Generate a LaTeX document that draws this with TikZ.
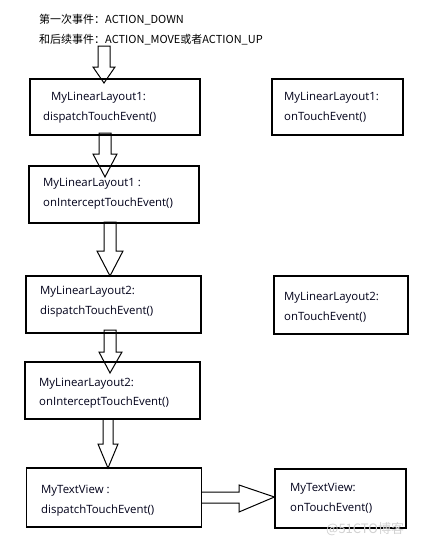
\documentclass[tikz,border=0pt]{standalone}
\usepackage{fontspec}
\setmainfont{Open Sans}
\newfontfamily\cjk{Noto Sans CJK SC}
\begin{document}
\begin{tikzpicture}[x=1pt,y=-1pt,
  box/.style={draw=black,line width=1.2pt,rectangle,inner sep=0pt},
  lbl/.style={anchor=base west,inner sep=0pt,font=\fontsize{11.4pt}{13pt}\selectfont,text=black!90!blue},
  hdr/.style={anchor=base west,inner sep=0pt,font=\fontsize{11pt}{13pt}\selectfont\cjk,text=black},
  blk/.style={draw=black,line width=1pt,line join=miter,fill=none}]
\useasboundingbox (0,0) rectangle (434,546);
% boxes
\node[box,minimum width=170pt,minimum height=56pt] (A) at (115,107) {};
\node[box,minimum width=131pt,minimum height=56pt] (B) at (337.5,107) {};
\node[box,minimum width=170pt,minimum height=57pt] (C) at (114,194.5) {};
\node[box,minimum width=175pt,minimum height=57pt] (D) at (113.5,304.5) {};
\node[box,minimum width=134pt,minimum height=58pt] (E) at (341,305) {};
\node[box,minimum width=175pt,minimum height=57pt] (F) at (112.5,390.5) {};
\node[box,minimum width=175pt,minimum height=59pt] (G) at (114,497.5) {};
\node[box,minimum width=131pt,minimum height=59pt] (H) at (340.5,498.5) {};
% header
\node[hdr] (h1) at (39,23.5) {第一次事件：ACTION\_DOWN};
\node[hdr] (h2) at (39,43.5) {和后续事件：ACTION\_MOVE或者ACTION\_UP};
% labels
\node[lbl] (a1) at (51,100) {MyLinearLayout1:};
\node[lbl] (a2) at (43,120.5) {dispatchTouchEvent()};
\node[lbl] (b1) at (284,100) {MyLinearLayout1:};
\node[lbl] (b2) at (284,120) {onTouchEvent()};
\node[lbl] (c1) at (43,186) {MyLinearLayout1 :};
\node[lbl] (c2) at (43,206) {onInterceptTouchEvent()};
\node[lbl] (d1) at (40,294) {MyLinearLayout2:};
\node[lbl] (d2) at (40,314) {dispatchTouchEvent()};
\node[lbl] (e1) at (284,300) {MyLinearLayout2:};
\node[lbl] (e2) at (284,320) {onTouchEvent()};
\node[lbl] (f1) at (39,386) {MyLinearLayout2:};
\node[lbl] (f2) at (39,405.5) {onInterceptTouchEvent()};
\node[lbl] (g1) at (41,493) {MyTextView :};
\node[lbl] (g2) at (41,513) {dispatchTouchEvent()};
\node[lbl] (k1) at (290,491.5) {MyTextView:};
\node[lbl] (k2) at (290,511.5) {onTouchEvent()};
% watermark
\node[anchor=base west,inner sep=0pt,font=\fontsize{13pt}{15pt}\selectfont\cjk,text=black!18] (wm) at (326,533) {@51CTO博客};
% block arrows (vertical): x-left shaft, x-right shaft, head left, head right, top, base, tip
\newcommand{\vblock}[8]{%
  \draw[blk] (#1,#5) -- (#2,#5) -- (#2,#6) -- (#4,#6) -- (#8,#7) -- (#3,#6) -- (#1,#6) -- cycle;}
\vblock{98}{110}{93}{115}{46}{67}{83}{104}
\vblock{99}{111}{93}{117}{133}{154}{177}{105}
\vblock{104}{116}{97}{123}{222}{251}{276}{110}
\vblock{104}{116}{99}{122}{330}{352}{373}{110}
\vblock{103}{113}{98}{118}{419}{444}{468}{108}
% horizontal block arrow G -> H
\draw[blk] (G.east |- 0,492) -- (239,492) -- (239,485) -- (H.west |- 0,497) -- (239,512) -- (239,503) -- (G.east |- 0,503);
\fill (H.west |- 0,497) circle (1.2pt);
\end{tikzpicture}
\end{document}
